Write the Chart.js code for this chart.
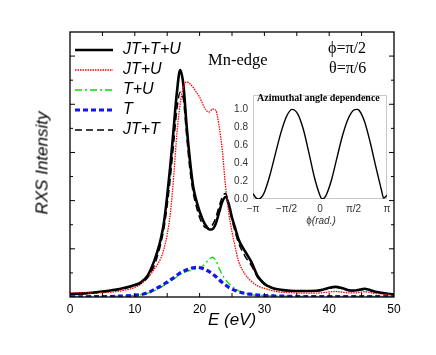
<!DOCTYPE html>
<html>
<head>
<meta charset="utf-8">
<script src="https://cdn.jsdelivr.net/npm/chart.js@4.4.1/dist/chart.umd.min.js"></script>
<style>
  body { margin: 0; background: #fff; }
  #wrap { position: relative; width: 436px; height: 355px; overflow: hidden; }
  canvas { position: absolute; }
  .t { position: absolute; white-space: nowrap; line-height: 1; color: #000; }
  .serif { font-family: "Liberation Serif", "DejaVu Serif", serif; }
  .sans { font-family: "Liberation Sans", Arial, sans-serif; }
</style>
</head>
<body>
<div id="wrap">
  <canvas id="main" width="436" height="355" style="left:0;top:0"></canvas>
  <canvas id="inset" width="180" height="150" style="left:220px;top:84px"></canvas>

  <div class="t serif" style="left:208px;top:52px;font-size:16.5px">Mn-edge</div>
  <div class="t serif" style="left:328px;top:40px;font-size:16px">ϕ=π/2</div>
  <div class="t serif" style="left:329px;top:60px;font-size:16px">θ=π/6</div>
  <div class="t sans" style="left:232px;top:311px;font-size:17px;font-style:italic;transform:translateX(-50%)">E (eV)</div>
  <div class="t sans" style="left:42px;top:163px;font-size:17px;font-style:italic;transform:translate(-50%,-50%) rotate(-90deg)">RXS Intensity</div>
  <div class="t serif" style="left:257px;top:93px;font-size:10px;font-weight:bold">Azimuthal angle dependence</div>
  <div class="t sans" style="left:321px;top:216px;font-size:10px;color:#333;transform:translateX(-50%)">ϕ<i>(rad.)</i></div>
</div>

<script>
// энергия (эВ)
const energy = [0, 2, 4, 6, 8, 10, 11, 12, 13, 13.5, 14, 14.5, 15, 15.5, 16, 16.5, 17, 17.5, 18, 18.5,
  19, 19.5, 20, 20.5, 21, 21.5, 22, 22.5, 23, 23.5, 24, 24.5, 25, 25.5, 26, 27, 28, 29, 30, 31,
  32, 34, 36, 38, 39, 40, 41, 42, 43, 44, 45, 45.5, 46, 47, 48, 50];

// спектры RXS
const jtTU = [0.12, 0.15, 0.2, 0.26, 0.35, 0.5, 0.62, 0.9, 1.5, 1.9, 2.4, 3.1, 4.2, 5.5, 7.0, 8.5, 9.42, 8.8, 7.1, 5.7,
  4.6, 4.0, 3.55, 3.2, 2.95, 2.8, 2.82, 3.05, 3.5, 3.95, 4.15, 3.85, 3.3, 2.85, 2.4, 1.9, 1.45, 0.85, 0.55, 0.4,
  0.32, 0.26, 0.25, 0.26, 0.3, 0.38, 0.42, 0.37, 0.28, 0.27, 0.32, 0.34, 0.31, 0.23, 0.18, 0.1];
const jtU = [0.17, 0.17, 0.18, 0.2, 0.26, 0.4, 0.55, 0.8, 1.15, 1.35, 1.6, 2.0, 2.6, 3.5, 5.0, 6.8, 8.0, 8.7, 8.93, 8.85,
  8.7, 8.5, 8.3, 8.0, 7.75, 7.68, 7.8, 7.75, 7.1, 6.1, 4.6, 3.5, 2.7, 2.07, 1.5, 0.95, 0.65, 0.45, 0.36, 0.28,
  0.22, 0.18, 0.16, 0.16, 0.18, 0.21, 0.23, 0.2, 0.17, 0.17, 0.2, 0.22, 0.2, 0.15, 0.13, 0.1];
const tU = [0.02, 0.02, 0.02, 0.03, 0.04, 0.07, 0.1, 0.15, 0.26, 0.33, 0.4, 0.48, 0.56, 0.65, 0.74, 0.84, 0.93, 1.0, 1.06, 1.1,
  1.13, 1.16, 1.2, 1.28, 1.42, 1.58, 1.65, 1.52, 1.2, 0.92, 0.72, 0.56, 0.44, 0.34, 0.26, 0.16, 0.1, 0.07, 0.06, 0.05,
  0.04, 0.03, 0.03, 0.03, 0.03, 0.03, 0.03, 0.03, 0.03, 0.03, 0.03, 0.03, 0.03, 0.02, 0.02, 0.02];
const tOnly = [0.01, 0.01, 0.02, 0.02, 0.04, 0.07, 0.1, 0.18, 0.31, 0.38, 0.45, 0.53, 0.62, 0.71, 0.8, 0.9, 1.0, 1.07, 1.13, 1.18,
  1.21, 1.23, 1.22, 1.18, 1.12, 1.05, 0.95, 0.85, 0.72, 0.6, 0.5, 0.4, 0.33, 0.27, 0.22, 0.15, 0.11, 0.08, 0.06, 0.05,
  0.04, 0.03, 0.02, 0.02, 0.02, 0.02, 0.02, 0.02, 0.02, 0.02, 0.02, 0.02, 0.02, 0.02, 0.02, 0.02];
const jtT = [0.1, 0.13, 0.18, 0.24, 0.33, 0.47, 0.58, 0.82, 1.3, 1.7, 2.2, 2.85, 3.8, 5.0, 6.4, 7.8, 8.5, 8.2, 6.7, 5.3,
  4.35, 3.75, 3.3, 3.0, 2.86, 2.88, 3.0, 3.3, 3.75, 4.15, 4.3, 3.85, 3.2, 2.7, 2.25, 1.7, 1.3, 0.8, 0.52, 0.38,
  0.3, 0.25, 0.24, 0.25, 0.29, 0.36, 0.4, 0.35, 0.27, 0.26, 0.3, 0.32, 0.29, 0.22, 0.17, 0.1];

const xTicks = [0, 10, 20, 30, 40, 50];

// вставка: азимутальная зависимость (угол в долях π)
const phiOverPi = [-1, -0.958, -0.92, -0.875, -0.833, -0.75, -0.667, -0.583, -0.5, -0.42, -0.333, -0.25, -0.167, -0.083,
  0, 0.03, 0.083, 0.167, 0.25, 0.333, 0.417, 0.5, 0.55, 0.583, 0.667, 0.75, 0.833, 0.917, 0.95, 1];
const azimuth = [0.06, 0.015, 0.0, 0.02, 0.07, 0.26, 0.5, 0.74, 0.92, 1.0, 0.95, 0.78, 0.52, 0.24,
  0.04, 0.0, 0.03, 0.2, 0.45, 0.7, 0.89, 0.99, 1.0, 0.99, 0.86, 0.63, 0.36, 0.1, 0.01, 0.04];
const phiTicks = ["−π", "−π/2", "0", "π/2", "π"];

const series = [
  { label: "T", data: tOnly, color: "#1414f0", width: 3.2, dash: [5, 3] },
  { label: "T+U", data: tU, color: "#00e000", width: 1.3, dash: [7, 3, 2, 3] },
  { label: "JT+T", data: jtT, color: "#000", width: 1.5, dash: [7, 4] },
  { label: "JT+U", data: jtU, color: "#ff0000", width: 1.3, dash: [1.5, 1] },
  { label: "JT+T+U", data: jtTU, color: "#000", width: 2.6, dash: [] },
];
const legendOrder = ["JT+T+U", "JT+U", "T+U", "T", "JT+T"];

const framePlugin = {
  id: "frame",
  afterDraw(chart) {
    const { ctx, chartArea: a, scales } = chart;
    ctx.save();
    ctx.strokeStyle = "#000";
    ctx.lineWidth = 1.3;
    ctx.setLineDash([]);
    ctx.strokeRect(a.left, a.top, a.right - a.left, a.bottom - a.top);
    ctx.lineWidth = 1;
    ctx.beginPath();
    for (let v = 5; v < 50; v += 5) {
      const x = scales.x.getPixelForValue(v);
      ctx.moveTo(x, a.bottom); ctx.lineTo(x, a.bottom - 4);
      ctx.moveTo(x, a.top); ctx.lineTo(x, a.top + 4);
    }
    for (let v = 1; v < 11; v++) {
      const y = scales.y.getPixelForValue(v);
      const len = v % 2 === 0 ? 5 : 3;
      ctx.moveTo(a.left, y); ctx.lineTo(a.left + len, y);
      ctx.moveTo(a.right, y); ctx.lineTo(a.right - len, y);
    }
    ctx.stroke();

    // легенда
    ctx.font = "italic 16px 'Liberation Sans', Arial, sans-serif";
    ctx.fillStyle = "#000";
    ctx.textBaseline = "middle";
    legendOrder.forEach((name, i) => {
      const s = series.find((d) => d.label === name);
      const y = 50 + i * 20;
      ctx.strokeStyle = s.color;
      ctx.lineWidth = s.width;
      ctx.setLineDash(s.dash);
      ctx.beginPath();
      ctx.moveTo(75, y);
      ctx.lineTo(113, y);
      ctx.stroke();
      ctx.fillText(name, 123, y);
    });
    ctx.restore();
  },
};

new Chart(document.getElementById("main"), {
  type: "line",
  data: {
    labels: energy,
    datasets: series.map((s) => ({
      label: s.label,
      data: s.data,
      borderColor: s.color,
      borderWidth: s.width,
      borderDash: s.dash,
      pointRadius: 0,
      fill: false,
      cubicInterpolationMode: "monotone",
    })),
  },
  options: {
    responsive: false,
    devicePixelRatio: 1,
    animation: false,
    layout: { padding: { top: 32, right: 42, left: 0, bottom: 0 } },
    plugins: { legend: { display: false }, tooltip: { enabled: false } },
    scales: {
      x: {
        type: "linear",
        min: 0,
        max: 50,
        afterBuildTicks: (s) => { s.ticks = xTicks.map((v) => ({ value: v })); },
        afterFit: (s) => { s.height = 58; },
        grid: { display: false, drawTicks: false },
        border: { display: false },
        ticks: {
          color: "#000",
          padding: 5,
          maxRotation: 0,
          font: { family: "'Liberation Sans', Arial, sans-serif", size: 12 },
        },
      },
      y: {
        min: 0,
        max: 11,
        afterFit: (s) => { s.width = 70; },
        grid: { display: false, drawTicks: false },
        border: { display: false },
        ticks: { display: false },
      },
    },
  },
  plugins: [framePlugin],
});

const insetFrame = {
  id: "insetFrame",
  beforeDatasetsDraw(chart) {
    const { ctx, chartArea: a } = chart;
    ctx.save();
    ctx.strokeStyle = "#c8c8c8";
    ctx.lineWidth = 1;
    ctx.strokeRect(a.left + 0.5, a.top + 0.5, a.right - a.left - 1, a.bottom - a.top - 1);
    ctx.restore();
  },
};

new Chart(document.getElementById("inset"), {
  type: "line",
  data: {
    datasets: [{
      data: phiOverPi.map((p, i) => ({ x: p * Math.PI, y: azimuth[i] })),
      borderColor: "#000",
      borderWidth: 1.4,
      pointRadius: 0,
      fill: false,
      cubicInterpolationMode: "monotone",
    }],
  },
  options: {
    responsive: false,
    devicePixelRatio: 1,
    animation: false,
    layout: { padding: { top: 5, right: 13, left: 0, bottom: 0 } },
    plugins: { legend: { display: false }, tooltip: { enabled: false } },
    scales: {
      x: {
        type: "linear",
        min: -Math.PI,
        max: Math.PI,
        afterBuildTicks: (s) => { s.ticks = phiTicks.map((_, i) => ({ value: -Math.PI + i * Math.PI / 2 })); },
        afterFit: (s) => { s.height = 35; },
        grid: { display: false, drawTicks: false },
        border: { display: false },
        ticks: {
          color: "#333",
          padding: 4,
          maxRotation: 0,
          autoSkip: false,
          font: { family: "'Liberation Sans', Arial, sans-serif", size: 10 },
          callback: (v, i) => phiTicks[i],
        },
      },
      y: {
        min: 0,
        max: 1.16,
        afterBuildTicks: (s) => { s.ticks = [0, 0.2, 0.4, 0.6, 0.8, 1.0].map((v) => ({ value: v })); },
        afterFit: (s) => { s.width = 33; },
        grid: { display: false, drawTicks: false },
        border: { display: false },
        ticks: {
          color: "#333",
          padding: 5,
          font: { family: "'Liberation Sans', Arial, sans-serif", size: 10 },
          callback: (v) => v.toFixed(1),
        },
      },
    },
  },
  plugins: [insetFrame],
});
</script>
</body>
</html>
